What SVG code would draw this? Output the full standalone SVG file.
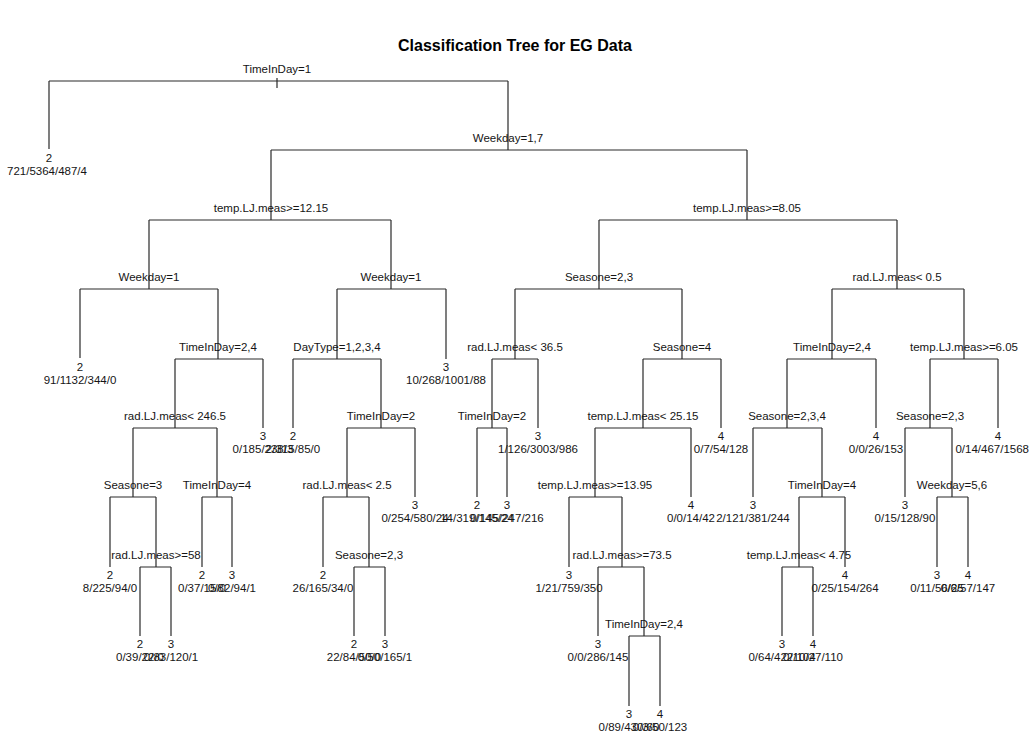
<svg xmlns="http://www.w3.org/2000/svg" width="1030" height="734" viewBox="0 0 1030 734">
<style>
text{font-family:"Liberation Sans",Arial,sans-serif;font-size:11.5px;fill:#151515;text-anchor:middle}
.title{font-size:16px;font-weight:bold;fill:#000}
.br{fill:none;stroke:#2a2a2a;stroke-width:1.2}
</style>
<rect width="1030" height="734" fill="#fff"/>
<text class="title" x="515" y="51">Classification Tree for EG Data</text>
<g id="connectors" class="br">
<path d="M49 81H508M271 150H747M149 220H391M80 289H218M175 359H263M133 428H217M110 497H156M140 567H171M202 497H232M337 289H446M293 359H381M347 428H415M323 497H369M354 567H385M599 220H897M515 289H682M492 359H538M477 428H507M643 359H721M595 428H691M569 497H622M598 567H644M629 636H660M832 289H964M787 359H876M753 428H822M799 497H845M782 567H813M930 359H998M905 428H952M937 497H968"/>
<path d="M277 78V88M508 81V150M271 150V220M149 220V289M218 289V359M175 359V428M133 428V497M156 497V567M217 428V497M391 220V289M337 289V359M381 359V428M347 428V497M369 497V567M747 150V220M599 220V289M515 289V359M492 359V428M682 289V359M643 359V428M595 428V497M622 497V567M644 567V636M897 220V289M832 289V359M787 359V428M822 428V497M799 497V567M964 289V359M930 359V428M952 428V497"/>
<path d="M49 81V149M80 289V358M263 359V428M293 359V428M110 497V567M140 567V636M171 567V636M202 497V567M232 497V567M323 497V567M354 567V636M385 567V636M415 428V497M446 289V359M477 428V497M507 428V497M538 359V428M569 497V567M598 567V636M629 636V706M660 636V706M691 428V497M721 359V428M753 428V497M782 567V636M813 567V636M845 497V567M876 359V428M905 428V497M937 497V567M968 497V567M998 359V428"/>
</g>
<g id="n1"><text x="277" y="72.5">TimeInDay=1</text></g>
<g id="n2"><text x="508" y="141.5">Weekday=1,7</text></g>
<g id="n3"><text x="271" y="211.5">temp.LJ.meas&gt;=12.15</text></g>
<g id="n4"><text x="149" y="280.5">Weekday=1</text></g>
<g id="n5"><text x="218" y="350.5">TimeInDay=2,4</text></g>
<g id="n6"><text x="175" y="419.5">rad.LJ.meas&lt; 246.5</text></g>
<g id="n7"><text x="133" y="488.5">Seasone=3</text></g>
<g id="n8"><text x="156" y="558.5">rad.LJ.meas&gt;=58</text></g>
<g id="n9"><text x="217" y="488.5">TimeInDay=4</text></g>
<g id="n10"><text x="391" y="280.5">Weekday=1</text></g>
<g id="n11"><text x="337" y="350.5">DayType=1,2,3,4</text></g>
<g id="n12"><text x="381" y="419.5">TimeInDay=2</text></g>
<g id="n13"><text x="347" y="488.5">rad.LJ.meas&lt; 2.5</text></g>
<g id="n14"><text x="369" y="558.5">Seasone=2,3</text></g>
<g id="n15"><text x="747" y="211.5">temp.LJ.meas&gt;=8.05</text></g>
<g id="n16"><text x="599" y="280.5">Seasone=2,3</text></g>
<g id="n17"><text x="515" y="350.5">rad.LJ.meas&lt; 36.5</text></g>
<g id="n18"><text x="492" y="419.5">TimeInDay=2</text></g>
<g id="n19"><text x="682" y="350.5">Seasone=4</text></g>
<g id="n20"><text x="643" y="419.5">temp.LJ.meas&lt; 25.15</text></g>
<g id="n21"><text x="595" y="488.5">temp.LJ.meas&gt;=13.95</text></g>
<g id="n22"><text x="622" y="558.5">rad.LJ.meas&gt;=73.5</text></g>
<g id="n23"><text x="644" y="627.5">TimeInDay=2,4</text></g>
<g id="n24"><text x="897" y="280.5">rad.LJ.meas&lt; 0.5</text></g>
<g id="n25"><text x="832" y="350.5">TimeInDay=2,4</text></g>
<g id="n26"><text x="787" y="419.5">Seasone=2,3,4</text></g>
<g id="n27"><text x="822" y="488.5">TimeInDay=4</text></g>
<g id="n28"><text x="799" y="558.5">temp.LJ.meas&lt; 4.75</text></g>
<g id="n29"><text x="964" y="350.5">temp.LJ.meas&gt;=6.05</text></g>
<g id="n30"><text x="930" y="419.5">Seasone=2,3</text></g>
<g id="n31"><text x="952" y="488.5">Weekday=5,6</text></g>
<g id="l1"><text x="49" y="161.5">2</text><text x="47" y="174.5">721/5364/487/4</text></g>
<g id="l2"><text x="80" y="370.5">2</text><text x="80" y="383.5">91/1132/344/0</text></g>
<g id="l3"><text x="263" y="439.5">3</text><text x="263" y="452.5">0/185/238/3</text></g>
<g id="l4"><text x="293" y="439.5">2</text><text x="293" y="452.5">2/315/85/0</text></g>
<g id="l5"><text x="110" y="578.5">2</text><text x="110" y="591.5">8/225/94/0</text></g>
<g id="l6"><text x="140" y="647.5">2</text><text x="140" y="660.5">0/39/22/0</text></g>
<g id="l7"><text x="171" y="647.5">3</text><text x="171" y="660.5">0/83/120/1</text></g>
<g id="l8"><text x="202" y="578.5">2</text><text x="202" y="591.5">0/37/15/0</text></g>
<g id="l9"><text x="232" y="578.5">3</text><text x="232" y="591.5">0/82/94/1</text></g>
<g id="l10"><text x="323" y="578.5">2</text><text x="323" y="591.5">26/165/34/0</text></g>
<g id="l11"><text x="354" y="647.5">2</text><text x="354" y="660.5">22/84/50/0</text></g>
<g id="l12"><text x="385" y="647.5">3</text><text x="385" y="660.5">0/50/165/1</text></g>
<g id="l13"><text x="415" y="508.5">3</text><text x="415" y="521.5">0/254/580/24</text></g>
<g id="l14"><text x="446" y="370.5">3</text><text x="446" y="383.5">10/268/1001/88</text></g>
<g id="l15"><text x="477" y="508.5">2</text><text x="477" y="521.5">14/319/145/24</text></g>
<g id="l16"><text x="507" y="508.5">3</text><text x="507" y="521.5">0/145/247/216</text></g>
<g id="l17"><text x="538" y="439.5">3</text><text x="538" y="452.5">1/126/3003/986</text></g>
<g id="l18"><text x="569" y="578.5">3</text><text x="569" y="591.5">1/21/759/350</text></g>
<g id="l19"><text x="598" y="647.5">3</text><text x="598" y="660.5">0/0/286/145</text></g>
<g id="l20"><text x="629" y="717.5">3</text><text x="629" y="730.5">0/89/430/60</text></g>
<g id="l21"><text x="660" y="717.5">4</text><text x="660" y="730.5">0/3/50/123</text></g>
<g id="l22"><text x="691" y="508.5">4</text><text x="691" y="521.5">0/0/14/42</text></g>
<g id="l23"><text x="721" y="439.5">4</text><text x="721" y="452.5">0/7/54/128</text></g>
<g id="l24"><text x="753" y="508.5">3</text><text x="753" y="521.5">2/121/381/244</text></g>
<g id="l25"><text x="782" y="647.5">3</text><text x="782" y="660.5">0/64/422/104</text></g>
<g id="l26"><text x="813" y="647.5">4</text><text x="813" y="660.5">0/10/27/110</text></g>
<g id="l27"><text x="845" y="578.5">4</text><text x="845" y="591.5">0/25/154/264</text></g>
<g id="l28"><text x="876" y="439.5">4</text><text x="876" y="452.5">0/0/26/153</text></g>
<g id="l29"><text x="905" y="508.5">3</text><text x="905" y="521.5">0/15/128/90</text></g>
<g id="l30"><text x="937" y="578.5">3</text><text x="937" y="591.5">0/11/56/25</text></g>
<g id="l31"><text x="968" y="578.5">4</text><text x="968" y="591.5">0/6/57/147</text></g>
<g id="l32"><text x="998" y="439.5">4</text><text x="1029" y="452.5" style="text-anchor:end">0/14/467/1568</text></g>
</svg>
